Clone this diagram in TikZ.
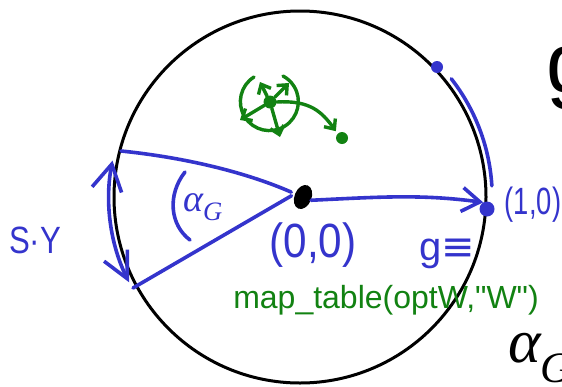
\documentclass[tikz,border=0pt]{standalone}
\usepackage{fontspec}
\setmainfont{Liberation Sans}
\newfontfamily\hserif{Liberation Serif}
\newfontfamily\hsym{DejaVu Sans}
\usetikzlibrary{arrows.meta,positioning,shapes.geometric}
\definecolor{penblue}{RGB}{52,52,204}
\definecolor{pengreen}{RGB}{18,130,18}
\definecolor{penblack}{RGB}{0,0,0}
\newcommand{\alG}{{\hserif\itshape α\textsubscript{G}}}
\tikzset{
  %% pen strokes
  bpen/.style={draw=penblue,line width=3.6pt,line cap=round,line join=round},
  gpen/.style={draw=pengreen,line width=3.4pt,line cap=round,line join=round},
  %% open hand-drawn tips
  bbarb/.style={-{Straight Barb[length=18pt,width=24pt]}},
  dbarb/.style={{Straight Barb[length=26pt,width=30pt]}-{Straight Barb[length=26pt,width=26pt]}},
  gbarb/.style={-{Straight Barb[length=8pt,width=14pt]}},
  %% dots
  bdot/.style={circle,fill=penblue,inner sep=0pt,minimum size=#1},
  gdot/.style={circle,fill=pengreen,inner sep=0pt,minimum size=#1},
  %% handwritten labels
  hlbl/.style={text=penblue,inner sep=0pt,font=\fontsize{#1}{#1}\selectfont},
  klbl/.style={text=penblack,inner sep=0pt,font=\fontsize{#1}{#1}\selectfont},
}
\begin{document}
\begin{tikzpicture}[x=1pt,y=-1pt]
  \useasboundingbox (0,0) rectangle (562,386);
  \clip (0,0) rectangle (562,386);

  %% unit circle
  \draw[line width=3pt,penblack] (300,197) circle[radius=186];

  %% origin and (1,0)
  \node[ellipse,fill=penblack,inner sep=0pt,minimum width=17pt,minimum height=25pt,rotate=-22] (o) at (303,197) {};
  \node[bdot=15pt] (p10) at (487,209) {};
  \node[bdot=12pt] (q)   at (437,67)  {};

  \draw[bpen,bbarb] (o.east) .. controls (380,197) and (420,194) .. (p10.120);

  %% sector
  \coordinate (A) at (121,151);
  \coordinate (B) at (133,288);
  \draw[bpen,shorten <=4pt] (o.west) .. controls (250,174) and (190,158) .. (A);
  \draw[bpen,shorten <=4pt] (o.west) -- (B);
  \draw[bpen] (185,172) .. controls (167,195) and (170,225) .. (190,240);

  %% arc lengths
  \draw[bpen,dbarb] (112.5,160.6) arc[start angle=191,end angle=153.5,radius=191];
  \draw[bpen] (451.3,78.8) arc[start angle=-38,end angle=-3.5,radius=193];

  %% labels
  \node[hlbl=48] (l00) at (313,245) {\scalebox{0.88}[1]{(0,0)}};
  \node[hlbl=38] (l10) at (533,205) {\scalebox{0.72}[1]{(1,0)}};
  \node[hlbl=40] (lg)  at (447,254) {g{\hsym ≡}};
  \node[hlbl=38] (lsy) at (35,240)  {\scalebox{0.82}[1]{S·Y}};
  \node[hlbl=38] (la)  at (203,207) {\alG};

  %% green sketch
  \node[gdot=13pt] (gc)  at (270,102) {};
  \node[gdot=12pt] (ge)  at (342,138) {};
  \coordinate (gu)  at (260,82);
  \coordinate (gur) at (289,83);
  \coordinate (gdl) at (240,120);
  \coordinate (gd)  at (280,137);
  \draw[gpen,gbarb] (gc) -- (gu);
  \draw[gpen,gbarb] (gc) -- (gur);
  \draw[gpen,gbarb] (gc) -- (gdl);
  \draw[gpen,gbarb] (gc) -- (gd);
  \draw[gpen] (254,77) arc[start angle=238,end angle=-62,radius=29];
  \draw[gpen,gbarb,shorten >=3pt] (gc.east) .. controls (310,100) and (322,112) .. (ge.north west);

  \node[text=pengreen,anchor=base,inner sep=0pt,font=\fontsize{32}{36}\selectfont] (mt) at (386,308) {map\_table(optW,\textquotedbl W\textquotedbl)};

  %% cut off at the right edge
  \node[klbl=85,anchor=base west] (kg) at (546,92) {g};
  \node[klbl=62,anchor=base west] (ka) at (508,362) {\alG};

\end{tikzpicture}
\end{document}
